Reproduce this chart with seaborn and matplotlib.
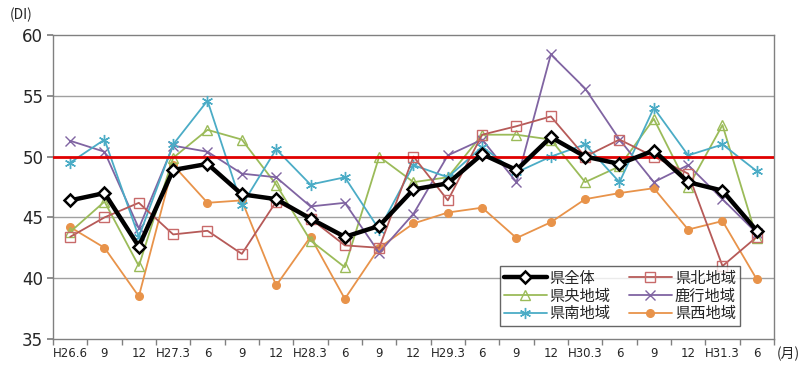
import matplotlib
matplotlib.use("Agg")
import matplotlib.pyplot as plt
import seaborn as sns
import pandas as pd
import numpy as np
from matplotlib.ticker import FixedLocator

periods = ["H26.6", "9", "12", "H27.3", "6", "9", "12", "H28.3", "6", "9", "12",
           "H29.3", "6", "9", "12", "H30.3", "6", "9", "12", "H31.3", "6"]

ken_zentai = [46.4, 47.0, 42.6, 48.9, 49.4, 46.9, 46.5, 44.9, 43.4, 44.3, 47.3,
              47.8, 50.2, 48.9, 51.6, 50.0, 49.4, 50.5, 47.9, 47.2, 43.9]
kenpoku = [43.4, 45.0, 46.2, 43.6, 43.9, 42.0, 46.3, 44.9, 42.7, 42.5, 50.0,
           46.4, 51.8, 52.5, 53.3, 50.0, 51.4, 50.0, 48.6, 41.0, 43.4]
kenou = [43.8, 46.3, 41.0, 49.9, 52.2, 51.4, 47.7, 43.1, 40.9, 50.0, 47.9,
         48.3, 51.8, 51.8, 51.4, 47.9, 49.2, 53.1, 47.5, 52.6, 43.3]
rokko = [51.3, 50.4, 44.1, 50.9, 50.4, 48.6, 48.3, 45.9, 46.2, 42.1, 45.3,
         50.1, 51.4, 47.9, 58.4, 55.6, 51.4, 47.9, 49.3, 46.5, 43.7]
kennan = [49.5, 51.4, 43.4, 51.0, 54.6, 46.0, 50.6, 47.7, 48.3, 44.0, 49.3,
          48.3, 50.8, 48.7, 50.0, 51.0, 47.9, 54.0, 50.1, 51.0, 48.8]
kensei = [44.2, 42.5, 38.5, 49.3, 46.2, 46.4, 39.4, 43.4, 38.3, 42.5, 44.5,
          45.4, 45.8, 43.3, 44.6, 46.5, 47.0, 47.4, 44.0, 44.7, 39.9]

series_names = ["県全体", "県北地域", "県央地域", "鹿行地域", "県南地域", "県西地域"]
series_values = [ken_zentai, kenpoku, kenou, rokko, kennan, kensei]

sns.set_theme(style="white")
plt.rcParams['font.family'] = ['Noto Sans CJK JP', 'DejaVu Sans']

fig = plt.figure(figsize=(8.0, 3.69), dpi=100)
ax = fig.add_axes([53/800, 1 - 339/369, (774-53)/800, (339-35)/369])

x = np.arange(len(periods))
styles = {
    "県全体": dict(color="black", lw=3.2, marker="D", ms=6.5, mfc="white", mec="black", mew=1.8, zorder=10),
    "県北地域": dict(color="#B65A58", lw=1.3, marker="s", ms=6.5, mfc="none", mec="#C86A6A", mew=1.0, zorder=5),
    "県央地域": dict(color="#9BBB59", lw=1.3, marker="^", ms=7, mfc="none", mec="#9BBB59", mew=1.0, zorder=4),
    "鹿行地域": dict(color="#8064A2", lw=1.3, marker="x", ms=7, mfc="none", mec="#8064A2", mew=1.0, zorder=4),
    "県南地域": dict(color="#4BACC6", lw=1.3, marker=(6, 2, 0), ms=8, mfc="none", mec="#4BACC6", mew=1.0, zorder=4),
    "県西地域": dict(color="#E8934A", lw=1.3, marker="o", ms=5.5, mfc="#E8934A", mec="#E8934A", mew=1.0, zorder=3),
}

for name, vals in zip(series_names, series_values):
    st = styles[name]
    sns.lineplot(x=x, y=vals, ax=ax, color=st["color"], linewidth=st["lw"],
                 marker=st["marker"], markersize=st["ms"], markerfacecolor=st["mfc"],
                 markeredgecolor=st["mec"], markeredgewidth=st["mew"], zorder=st["zorder"],
                 label=name)

ax.axhline(50, color="#E00000", lw=2.0, zorder=6)
for yv in [40, 45, 55]:
    ax.axhline(yv, color="#A0A0A0", lw=1.0, zorder=0)

ax.set_xlim(-0.5, len(periods) - 0.5)
ax.set_ylim(35, 60)
ax.set_yticks([35, 40, 45, 50, 55, 60])
ax.set_yticklabels(["35", "40", "45", "50", "55", "60"], fontsize=12, family=['DejaVu Sans'])
ax.set_xticks(x)
ax.set_xticklabels(periods, fontsize=8.5, family=['DejaVu Sans'])
ax.tick_params(axis="x", which="major", length=0, pad=6)
ax.xaxis.set_minor_locator(FixedLocator(np.arange(-0.5, len(periods), 1.0)))
ax.tick_params(axis="x", which="minor", length=4, color="#808080", width=1, direction="out", bottom=True)
ax.tick_params(axis="y", which="major", length=4, color="#808080", direction="out", left=True, pad=3)
ax.set_xlabel("")
ax.set_ylabel("")
for s in ax.spines.values():
    s.set_color("#808080")
    s.set_linewidth(1.0)

handles, labels = ax.get_legend_handles_labels()
order = [0, 2, 4, 1, 3, 5]
leg = ax.legend([handles[i] for i in order], [labels[i] for i in order], ncol=2,
                loc="upper left", bbox_to_anchor=((500-53)/721, (339-266)/304),
                fontsize=11, frameon=True, fancybox=False, borderpad=0.25,
                labelspacing=0.05, handlelength=2.8, columnspacing=1.2, handletextpad=0.2,
                borderaxespad=0)
leg.get_frame().set_edgecolor("#404040")
leg.get_frame().set_linewidth(1.0)
leg.set_zorder(20)

fig.text(10/800, 1 - 15/369, "(DI)", fontsize=10, va="center", ha="left")
fig.text(777/800, 1 - 354/369, "(月)", fontsize=10, va="center", ha="left")

fig.savefig("out.png", dpi=100)
